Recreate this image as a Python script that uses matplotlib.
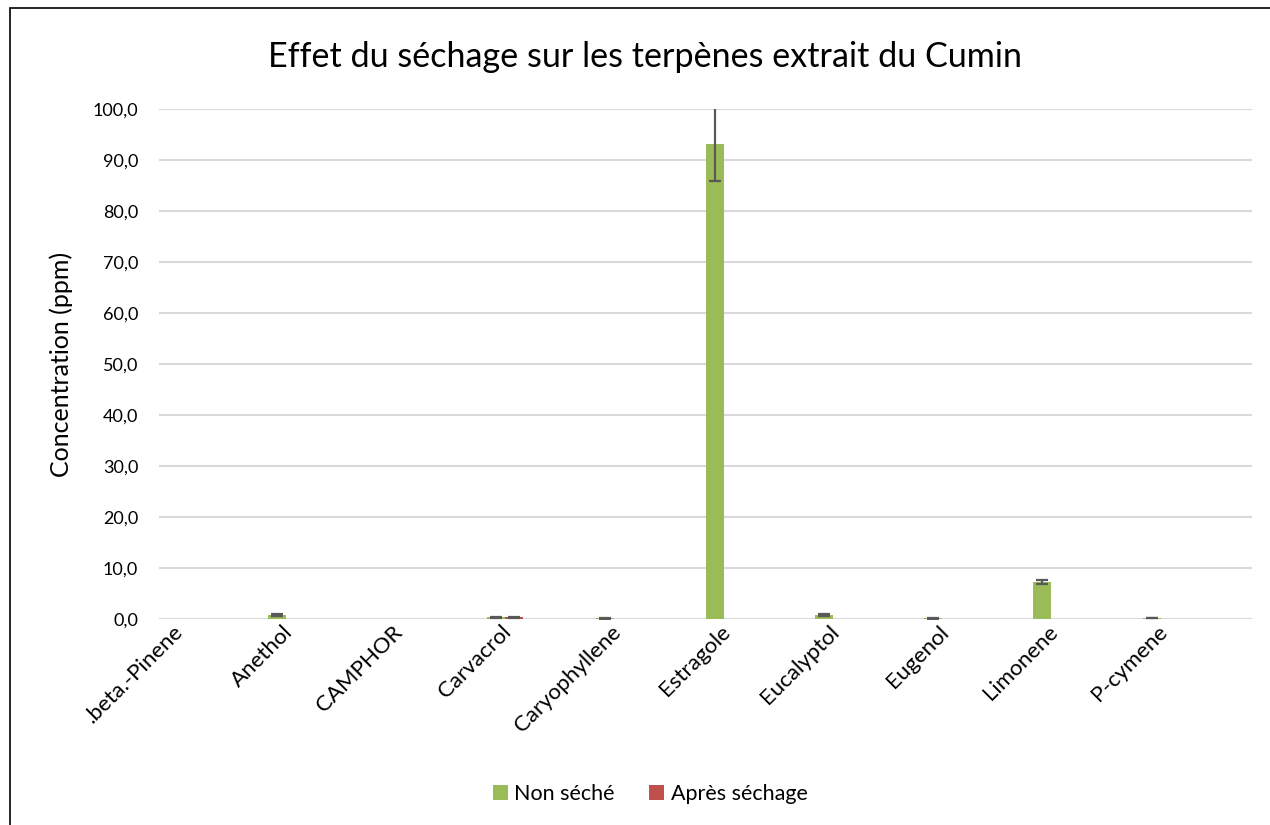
import numpy as np
import matplotlib
matplotlib.use("Agg")
import matplotlib.pyplot as plt
from matplotlib.patches import Patch, Rectangle
from matplotlib.ticker import FuncFormatter

plt.rcParams['font.family'] = ['Lato', 'DejaVu Sans']

categories = ['.beta.-Pinene', 'Anethol', 'CAMPHOR', 'Carvacrol', 'Caryophyllene',
              'Estragole', 'Eucalyptol', 'Eugenol', 'Limonene', 'P-cymene']
non_seche = [0.0, 0.7, 0.0, 0.3, 0.1, 93.2, 0.8, 0.1, 7.3, 0.15]
non_seche_err = [0.0, 0.2, 0.0, 0.1, 0.05, 7.3, 0.2, 0.05, 0.35, 0.05]
apres_sechage = [0.0, 0.0, 0.0, 0.3, 0.0, 0.0, 0.0, 0.0, 0.0, 0.0]
apres_sechage_err = [0.0, 0.0, 0.0, 0.1, 0.0, 0.0, 0.0, 0.0, 0.0, 0.0]

green = '#9BBB59'
red = '#C0504D'
err_col = '#595959'

fig = plt.figure(figsize=(12.7, 8.25), dpi=100)
ax = fig.add_axes([159/1270, 1 - 619/825, (1252 - 159)/1270, (619 - 109)/825])

x = np.arange(len(categories))
w = 0.165
ax.bar(x, non_seche, width=w, align='edge', color=green, zorder=3)
ax.bar(x + w, apres_sechage, width=w, align='edge', color=red, zorder=3)

for xs, vals, errs in [(x + w/2, non_seche, non_seche_err), (x + 1.5*w, apres_sechage, apres_sechage_err)]:
    m = np.array(errs) > 0
    ax.errorbar(xs[m], np.array(vals)[m], yerr=np.array(errs)[m], fmt='none',
                ecolor=err_col, elinewidth=1.6, capsize=4.5, capthick=1.6, zorder=4)

ax.set_xlim(0, 10)
ax.set_ylim(0, 100)
ax.set_yticks(np.arange(0, 101, 10))
ax.yaxis.set_major_formatter(FuncFormatter(lambda v, p: f"{v:.1f}".replace('.', ',')))
ax.grid(axis='y', color='#D9D9D9', linewidth=1.5, zorder=0)
ax.set_axisbelow(True)
for s in ax.spines.values():
    s.set_visible(False)
ax.tick_params(axis='y', length=0, pad=15, labelsize=13)
ax.tick_params(axis='x', length=0, pad=2, labelsize=16)
ax.set_xticks(x + 0.13)
ax.set_xticklabels(categories, rotation=45, ha='right', va='top', rotation_mode='anchor')
ax.set_ylabel('Concentration (ppm)', fontsize=18, labelpad=14)

fig.text(645/1270, 1 - 57/825, 'Effet du séchage sur les terpènes extrait du Cumin',
         ha='center', va='center', fontsize=24.6)

handles = [Patch(facecolor=green, label='Non séché'), Patch(facecolor=red, label='Après séchage')]
fig.legend(handles=handles, loc='center', bbox_to_anchor=(650/1270, 1 - 794/825), ncol=2,
           frameon=False, fontsize=15.5, handlelength=0.7, handleheight=0.7,
           handletextpad=0.3, columnspacing=1.6)

fig.patches.append(Rectangle((10/1270, -0.05), 1.1, 1.05 - 8/825, transform=fig.transFigure,
                             fill=False, edgecolor='black', linewidth=1.2))

fig.savefig('out.png', dpi=100)
